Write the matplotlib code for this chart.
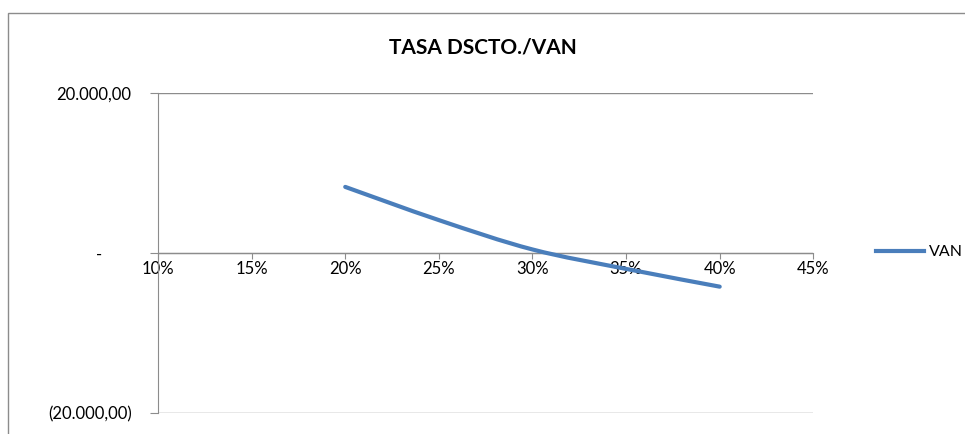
import numpy as np
import matplotlib
matplotlib.use("Agg")
import matplotlib.pyplot as plt
from matplotlib.path import Path
from matplotlib.patches import PathPatch, Rectangle
from matplotlib.lines import Line2D

# --- data ---
tasas = [0.20, 0.25, 0.30, 0.35, 0.40]
van = [8300, 4150, 480, -1950, -4170]
x_ticks = [0.10, 0.15, 0.20, 0.25, 0.30, 0.35, 0.40, 0.45]
x_labels = ["10%", "15%", "20%", "25%", "30%", "35%", "40%", "45%"]
y_ticks = [-20000, 0, 20000]
y_labels = ["(20.000,00)", "-       ", "20.000,00"]

LINE_COL = "#4a7ebb"
GRID_COL = "#8c8c8c"
plt.rcParams["font.family"] = ["Lato", "DejaVu Sans"]

W, H = 965, 434
fig = plt.figure(figsize=(W / 100, H / 100), dpi=100)

# chart frame (Excel style outer border)
fig.patches.append(Rectangle((8 / W, -0.2), 1.2, 1.2 - 13 / H,
                             transform=fig.transFigure, fill=False,
                             edgecolor="#8c8c8c", linewidth=1.0))

left, right = 158 / W, 813.3 / W
bottom, top = (H - 413.3) / H, (H - 93.3) / H
ax = fig.add_axes([left, bottom, right - left, top - bottom])

ax.set_xlim(0.10, 0.45)
ax.set_ylim(-20000, 20000)

# smoothed line (Catmull-Rom -> cubic bezier, like Excel "smooth line")
pts = np.column_stack([tasas, van]).astype(float)
ext = np.vstack([pts[0], pts, pts[-1]])
verts = [tuple(pts[0])]
codes = [Path.MOVETO]
for i in range(1, len(ext) - 2):
    p0, p1, p2, p3 = ext[i - 1], ext[i], ext[i + 1], ext[i + 2]
    c1 = p1 + (p2 - p0) / 6
    c2 = p2 - (p3 - p1) / 6
    verts += [tuple(c1), tuple(c2), tuple(p2)]
    codes += [Path.CURVE4] * 3
ax.add_patch(PathPatch(Path(verts, codes), fill=False, edgecolor=LINE_COL,
                       linewidth=3.0, capstyle="round", zorder=3))

# axes styling
for s in ["top", "right"]:
    ax.spines[s].set_visible(False)
ax.spines["bottom"].set_position(("data", 0))
ax.spines["bottom"].set_color(GRID_COL)
ax.spines["left"].set_color(GRID_COL)
ax.spines["bottom"].set_zorder(2)

ax.set_xticks(x_ticks)
ax.set_xticklabels(x_labels)
ax.set_yticks(y_ticks)
ax.set_yticklabels(y_labels)
ax.tick_params(axis="x", direction="out", length=4, color=GRID_COL,
               labelsize=12, pad=1.5)
ax.tick_params(axis="y", direction="out", length=6, color=GRID_COL,
               labelsize=12, pad=13)
ax.yaxis.grid(True, color=GRID_COL, linewidth=1.0)
ax.set_axisbelow(True)

fig.text(0.5, (H - 47) / H, "TASA DSCTO./VAN", ha="center", va="center",
         fontsize=15, fontweight="bold")

handle = Line2D([], [], color=LINE_COL, linewidth=3.0)
fig.legend([handle], ["VAN"], loc="center left",
           bbox_to_anchor=(862 / W, (H - 252) / H), frameon=False,
           fontsize=11.5, handlelength=3.0, handletextpad=0.3)

fig.savefig("out.png", dpi=100)
